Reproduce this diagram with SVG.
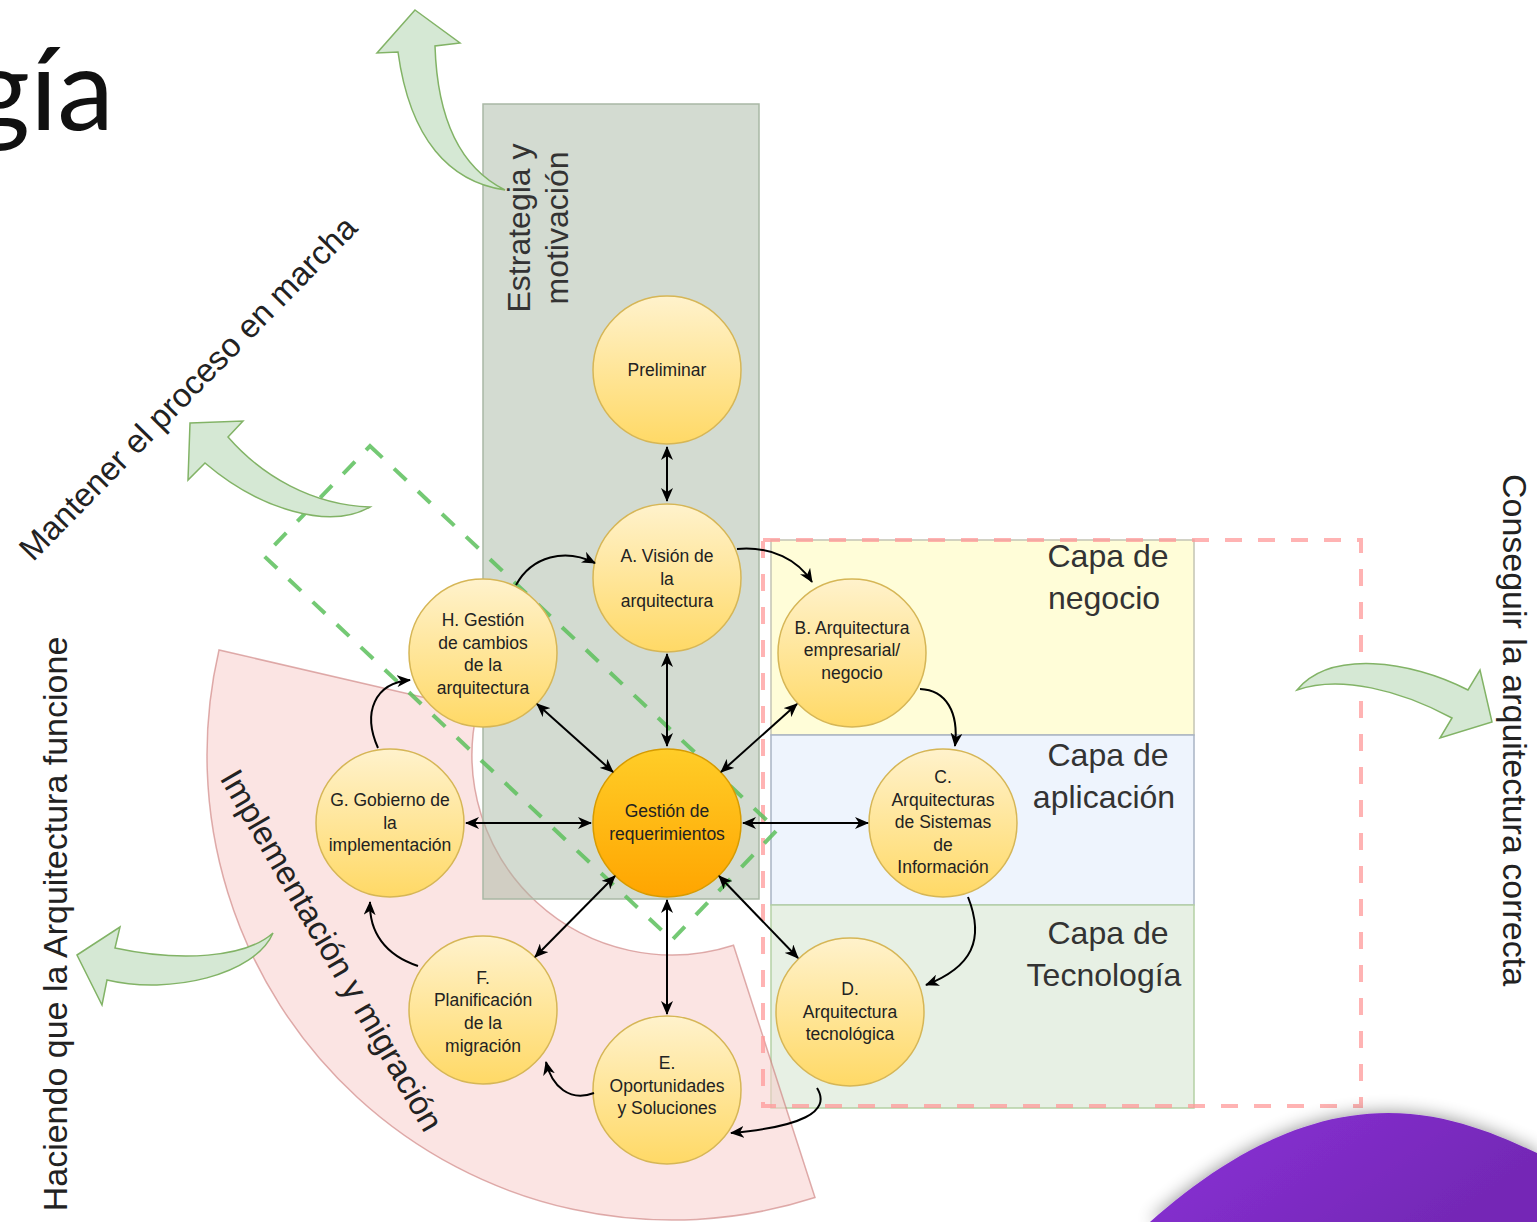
<svg xmlns="http://www.w3.org/2000/svg" width="1537" height="1222" viewBox="0 0 1537 1222">
<style>
.node{stroke:#d6b656;stroke-width:1.5}
.nt{font-family:"Liberation Sans",Arial,sans-serif;font-size:17.5px;fill:#222;text-anchor:middle}
.big{font-family:"Liberation Sans",Arial,sans-serif;font-size:32px;fill:#333}
.rot{font-family:"Liberation Sans",Arial,sans-serif;font-size:33px;fill:#222;text-anchor:middle}
.rot2{font-family:"Liberation Sans",Arial,sans-serif;font-size:34px;fill:#222;text-anchor:middle}
.ln{fill:none;stroke:#000;stroke-width:2}
.garrow{fill:#d5e8d4;stroke:#82b366;stroke-width:1.5}
</style>
<defs>
<linearGradient id="gy" x1="0" y1="0" x2="0" y2="1"><stop offset="0" stop-color="#fff2cc"/><stop offset="1" stop-color="#ffd966"/></linearGradient>
<linearGradient id="go" x1="0" y1="0" x2="0" y2="1"><stop offset="0" stop-color="#ffcd28"/><stop offset="1" stop-color="#ffa500"/></linearGradient>
<linearGradient id="gp" x1="0" y1="0" x2="1" y2="0.4"><stop offset="0" stop-color="#8b31d8"/><stop offset="1" stop-color="#7428b6"/></linearGradient>
<marker id="arr" viewBox="0 0 14 12" refX="13" refY="6" markerWidth="14" markerHeight="12" markerUnits="userSpaceOnUse" orient="auto-start-reverse"><path d="M0,0 L14,6 L0,12 L4,6 Z" fill="#000"/></marker>
<filter id="sh" x="-20%" y="-30%" width="140%" height="160%"><feGaussianBlur in="SourceAlpha" stdDeviation="9"/><feComponentTransfer><feFuncA type="linear" slope="0.45"/></feComponentTransfer><feMerge><feMergeNode/><feMergeNode in="SourceGraphic"/></feMerge></filter>
</defs>
<rect width="1537" height="1222" fill="#fff"/>

<text x="114" y="130" font-family="Lato, sans-serif" font-size="114" fill="#111" text-anchor="end">gía</text>

<g id="capa-negocio"><rect x="771" y="540" width="423" height="195" fill="#fffdd8" stroke="#c4c4b4" stroke-width="1.5"/><text class="big" x="1108" y="567" text-anchor="middle">Capa de</text><text class="big" x="1104" y="609" text-anchor="middle">negocio</text></g>
<g id="capa-aplicacion"><rect x="771" y="735" width="423" height="170" fill="#eef4fd" stroke="#a9b4c4" stroke-width="1.5"/><text class="big" x="1108" y="766" text-anchor="middle">Capa de</text><text class="big" x="1104" y="808" text-anchor="middle">aplicación</text></g>
<g id="capa-tecnologia"><rect x="771" y="905" width="423" height="203" fill="#e7f0e4" stroke="#b5d1a5" stroke-width="1.5"/><text class="big" x="1108" y="944" text-anchor="middle">Capa de</text><text class="big" x="1104" y="986" text-anchor="middle">Tecnología</text></g>

<g id="implementacion-migracion">
<path d="M219,650 A465,465 0 0 0 815,1197.5 L733.5,945.3 A200,200 0 0 1 477.2,709.8 Z" fill="#f8cecc" fill-opacity="0.55" stroke="#c97a78" stroke-opacity="0.6" stroke-width="1.5"/>
<text class="rot" transform="translate(322,956) rotate(60)">Implementación y migración</text>
</g>

<g id="estrategia-motivacion">
<rect x="483" y="104" width="276" height="795" fill="#a8b8a4" fill-opacity="0.5" stroke="#a9b8a5" stroke-width="1.5"/>
<text class="big" text-anchor="middle" transform="translate(530,228) rotate(-90)">Estrategia y</text>
<text class="big" text-anchor="middle" transform="translate(568,228) rotate(-90)">motivación</text>
</g>

<g id="marco-arquitectura"><path d="M763,540 H1361 V1106 H763 Z" fill="none" stroke="#ff9999" stroke-opacity="0.75" stroke-width="4" stroke-dasharray="17 16"/></g>
<g id="marco-cambios"><path d="M370,446 L777,830 L672,940 L264,556 Z" fill="none" stroke="#5cbf5c" stroke-opacity="0.85" stroke-width="4" stroke-dasharray="17 16"/></g>

<g id="flechas-verdes">
<path class="garrow" d="M415,10 L460,43 L435,46 C437,110 455,165 505,190 C450,182 410,140 398,52 L377,53 Z"/>
<path class="garrow" d="M190,423 L243,421 L228,437 C262,476 312,505 370,507 C330,530 260,510 205,463 L188,480 Z"/>
<path class="garrow" d="M77,955 L120,927 L115,948 C180,962 245,958 273,933 C255,975 170,995 107,980 L102,1005 Z"/>
<path class="garrow" d="M1297,690 C1330,650 1410,660 1468,690 L1480,670 L1492,722 L1440,738 L1452,718 C1400,690 1340,675 1297,690 Z"/>
</g>

<text class="rot" transform="translate(196,396) rotate(-45.6)">Mantener el proceso en marcha</text>
<text class="rot2" transform="translate(67,924) rotate(-90)">Haciendo que la Arquitectura funcione</text>
<text class="rot2" transform="translate(1503,730) rotate(90)">Conseguir la arquitectura correcta</text>

<g id="preliminar"><circle class="node" cx="667" cy="370" r="74" fill="url(#gy)"/><text class="nt" x="667" y="376">Preliminar</text></g>
<g id="a-vision"><circle class="node" cx="667" cy="578" r="74" fill="url(#gy)"/><text class="nt" x="667" y="562">A. Visión de</text><text class="nt" x="667" y="584.5">la</text><text class="nt" x="667" y="607">arquitectura</text></g>
<g id="gestion-requerimientos"><circle cx="667" cy="823" r="74" fill="url(#go)" stroke="#d79b00" stroke-width="1.5"/><text class="nt" x="667" y="817">Gestión de</text><text class="nt" x="667" y="840">requerimientos</text></g>
<g id="h-gestion-cambios"><circle class="node" cx="483" cy="653" r="74" fill="url(#gy)"/><text class="nt" x="483" y="626">H. Gestión</text><text class="nt" x="483" y="649">de cambios</text><text class="nt" x="483" y="671">de la</text><text class="nt" x="483" y="694">arquitectura</text></g>
<g id="b-arquitectura-negocio"><circle class="node" cx="852" cy="653" r="74" fill="url(#gy)"/><text class="nt" x="852" y="634">B. Arquitectura</text><text class="nt" x="852" y="656">empresarial/</text><text class="nt" x="852" y="679">negocio</text></g>
<g id="g-gobierno"><circle class="node" cx="390" cy="823" r="74" fill="url(#gy)"/><text class="nt" x="390" y="806">G. Gobierno de</text><text class="nt" x="390" y="829">la</text><text class="nt" x="390" y="851">implementación</text></g>
<g id="c-sistemas-informacion"><circle class="node" cx="943" cy="823" r="74" fill="url(#gy)"/><text class="nt" x="943" y="783">C.</text><text class="nt" x="943" y="806">Arquitecturas</text><text class="nt" x="943" y="828">de Sistemas</text><text class="nt" x="943" y="851">de</text><text class="nt" x="943" y="873">Información</text></g>
<g id="f-planificacion"><circle class="node" cx="483" cy="1010" r="74" fill="url(#gy)"/><text class="nt" x="483" y="984">F.</text><text class="nt" x="483" y="1006">Planificación</text><text class="nt" x="483" y="1029">de la</text><text class="nt" x="483" y="1052">migración</text></g>
<g id="d-tecnologica"><circle class="node" cx="850" cy="1012" r="74" fill="url(#gy)"/><text class="nt" x="850" y="995">D.</text><text class="nt" x="850" y="1018">Arquitectura</text><text class="nt" x="850" y="1040">tecnológica</text></g>
<g id="e-oportunidades"><circle class="node" cx="667" cy="1090" r="74" fill="url(#gy)"/><text class="nt" x="667" y="1069">E.</text><text class="nt" x="667" y="1092">Oportunidades</text><text class="nt" x="667" y="1114">y Soluciones</text></g>

<g id="conectores">
<path class="ln" d="M667,447 L667,501" marker-start="url(#arr)" marker-end="url(#arr)"/>
<path class="ln" d="M667,654 L667,746" marker-start="url(#arr)" marker-end="url(#arr)"/>
<path class="ln" d="M537,704 L613,772" marker-start="url(#arr)" marker-end="url(#arr)"/>
<path class="ln" d="M797,704 L721,772" marker-start="url(#arr)" marker-end="url(#arr)"/>
<path class="ln" d="M466,823 L591,823" marker-start="url(#arr)" marker-end="url(#arr)"/>
<path class="ln" d="M743,823 L868,823" marker-start="url(#arr)" marker-end="url(#arr)"/>
<path class="ln" d="M615,876 L535,957" marker-start="url(#arr)" marker-end="url(#arr)"/>
<path class="ln" d="M719,876 L798,958" marker-start="url(#arr)" marker-end="url(#arr)"/>
<path class="ln" d="M667,900 L667,1014" marker-start="url(#arr)" marker-end="url(#arr)"/>
<path class="ln" d="M516,585 C532,556 565,548 595,563" marker-end="url(#arr)"/>
<path class="ln" d="M737,549 C772,546 798,560 812,582" marker-end="url(#arr)"/>
<path class="ln" d="M920,689 C946,690 959,712 955,746" marker-end="url(#arr)"/>
<path class="ln" d="M968,897 C985,940 972,967 926,985" marker-end="url(#arr)"/>
<path class="ln" d="M817,1088 C832,1112 800,1127 731,1133" marker-end="url(#arr)"/>
<path class="ln" d="M594,1093 C570,1102 552,1087 546,1062" marker-end="url(#arr)"/>
<path class="ln" d="M418,966 C385,955 369,932 370,902" marker-end="url(#arr)"/>
<path class="ln" d="M378,748 C362,712 375,683 410,680" marker-end="url(#arr)"/>
</g>

<path d="M1150,1222 C1220,1160 1300,1113 1388,1113 C1450,1113 1500,1136 1537,1153 L1537,1222 Z" fill="url(#gp)" filter="url(#sh)"/>
</svg>
